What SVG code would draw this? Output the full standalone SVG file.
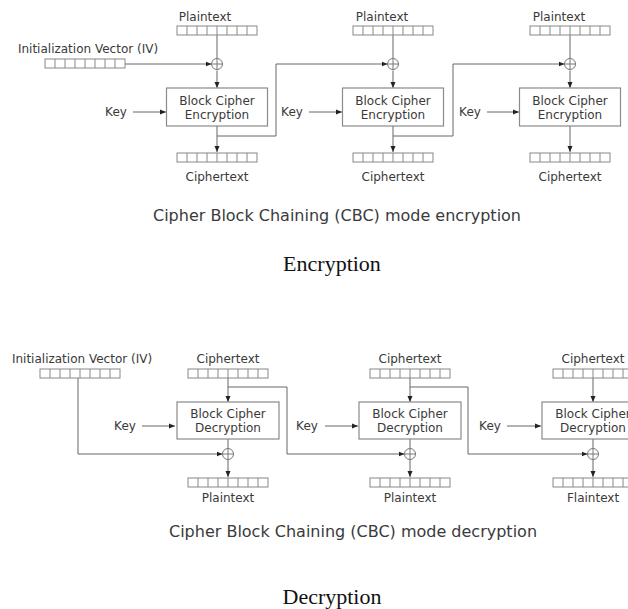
<svg xmlns="http://www.w3.org/2000/svg" width="628" height="609" viewBox="0 0 628 609">
  <defs>
    <style>
      .lbl { font-family: "DejaVu Sans", Verdana, sans-serif; font-size: 12px; fill: #3a3a3a; text-anchor: middle; }
      .cap { font-family: "DejaVu Sans", Verdana, sans-serif; font-size: 16px; fill: #3a3a3a; text-anchor: middle; }
      .ttl { font-family: "Liberation Serif", "Times New Roman", serif; font-size: 22px; fill: #111; text-anchor: middle; }
      .box { fill: #fff; stroke: #8a8a8a; stroke-width: 1.2; }
      .cell { fill: #fff; stroke: #888; stroke-width: 1; }
      .wire { fill: none; stroke: #666; stroke-width: 1; }
      .arr { fill: none; stroke: #666; stroke-width: 1; marker-end: url(#tip); }
      .xor { fill: #fff; stroke: #777; stroke-width: 1; }
    </style>
    <marker id="tip" viewBox="0 0 6 6" refX="6" refY="3" markerWidth="6" markerHeight="6" markerUnits="userSpaceOnUse" orient="auto">
      <path d="M0,0.5 L6,3 L0,5.5 z" fill="#222"/>
    </marker>
    <!-- 8-cell data block, 80 x 9 -->
    <g id="blk">
      <rect class="cell" x="0" y="0" width="80" height="9"/>
      <path d="M10,0V9M20,0V9M30,0V9M40,0V9M50,0V9M60,0V9M70,0V9" stroke="#888" stroke-width="1"/>
    </g>
    <!-- exclusive-or symbol -->
    <g id="xr">
      <circle class="xor" cx="0" cy="0" r="5.5"/>
      <path d="M-5.5,0H5.5M0,-5.5V5.5" stroke="#777" stroke-width="1"/>
    </g>
  </defs>

  <rect width="628" height="609" fill="#fff"/>

  <!-- ================= CBC encryption ================= -->
  <g id="connectors-enc">
    <!-- IV into first XOR -->
    <line class="arr" x1="125" y1="64" x2="211.5" y2="64"/>
    <!-- plaintext to XOR, XOR to cipher, cipher to ciphertext -->
    <line class="wire" x1="217" y1="35" x2="217" y2="58.5"/>
    <line class="arr" x1="217" y1="70.5" x2="217" y2="88"/>
    <line class="arr" x1="217" y1="126" x2="217" y2="152"/>
    <line class="wire" x1="393" y1="35" x2="393" y2="58.5"/>
    <line class="arr" x1="393" y1="70.5" x2="393" y2="88"/>
    <line class="arr" x1="393" y1="126" x2="393" y2="152"/>
    <line class="wire" x1="570" y1="35" x2="570" y2="58.5"/>
    <line class="arr" x1="570" y1="70.5" x2="570" y2="88"/>
    <line class="arr" x1="570" y1="126" x2="570" y2="152"/>
    <!-- keys -->
    <line class="arr" x1="133" y1="112" x2="166" y2="112"/>
    <line class="arr" x1="309" y1="112" x2="342" y2="112"/>
    <line class="arr" x1="487" y1="112" x2="519" y2="112"/>
    <!-- chaining -->
    <polyline class="arr" points="217,136 276,136 276,64 387.5,64"/>
    <polyline class="arr" points="393,136 453,136 453,64 564.5,64"/>
  </g>

  <g id="iv-enc">
    <text class="lbl" x="88" y="53">Initialization Vector (IV)</text>
    <use href="#blk" x="45" y="59"/>
  </g>

  <g id="enc-1">
    <text class="lbl" x="205" y="21">Plaintext</text>
    <use href="#blk" x="177" y="26"/>
    <use href="#xr" x="217" y="64"/>
    <text class="lbl" x="116" y="116">Key</text>
    <rect class="box" x="166.5" y="88" width="101" height="38"/>
    <text class="lbl" x="217" y="105">Block Cipher</text>
    <text class="lbl" x="217" y="119">Encryption</text>
    <use href="#blk" x="177" y="153"/>
    <text class="lbl" x="217" y="181">Ciphertext</text>
  </g>

  <g id="enc-2">
    <text class="lbl" x="382" y="21">Plaintext</text>
    <use href="#blk" x="353" y="26"/>
    <use href="#xr" x="393" y="64"/>
    <text class="lbl" x="292" y="116">Key</text>
    <rect class="box" x="342.5" y="88" width="101" height="38"/>
    <text class="lbl" x="393" y="105">Block Cipher</text>
    <text class="lbl" x="393" y="119">Encryption</text>
    <use href="#blk" x="353" y="153"/>
    <text class="lbl" x="393" y="181">Ciphertext</text>
  </g>

  <g id="enc-3">
    <text class="lbl" x="559" y="21">Plaintext</text>
    <use href="#blk" x="530" y="26"/>
    <use href="#xr" x="570" y="64"/>
    <text class="lbl" x="470" y="116">Key</text>
    <rect class="box" x="519.5" y="88" width="101" height="38"/>
    <text class="lbl" x="570" y="105">Block Cipher</text>
    <text class="lbl" x="570" y="119">Encryption</text>
    <use href="#blk" x="530" y="153"/>
    <text class="lbl" x="570" y="181">Ciphertext</text>
  </g>

  <text class="cap" x="337" y="221">Cipher Block Chaining (CBC) mode encryption</text>
  <text class="ttl" x="332" y="271">Encryption</text>

  <!-- ================= CBC decryption ================= -->
  <g id="connectors-dec">
    <!-- ciphertext into cipher -->
    <line class="arr" x1="228" y1="378" x2="228" y2="402"/>
    <line class="arr" x1="410" y1="378" x2="410" y2="402"/>
    <line class="arr" x1="593" y1="378" x2="593" y2="402"/>
    <!-- cipher to XOR, XOR to plaintext -->
    <line class="wire" x1="228" y1="439" x2="228" y2="448.5"/>
    <line class="arr" x1="228" y1="459.5" x2="228" y2="477"/>
    <line class="wire" x1="410" y1="439" x2="410" y2="448.5"/>
    <line class="arr" x1="410" y1="459.5" x2="410" y2="477"/>
    <line class="wire" x1="593" y1="439" x2="593" y2="448.5"/>
    <line class="arr" x1="593" y1="459.5" x2="593" y2="477"/>
    <!-- keys -->
    <line class="arr" x1="142" y1="426" x2="175" y2="426"/>
    <line class="arr" x1="325" y1="426" x2="358" y2="426"/>
    <line class="arr" x1="507" y1="426" x2="541" y2="426"/>
    <!-- IV and chaining -->
    <polyline class="arr" points="78,378 78,454 222.5,454"/>
    <polyline class="arr" points="228,387 287,387 287,454 404.5,454"/>
    <polyline class="arr" points="410,387 468,387 468,454 587.5,454"/>
  </g>

  <g id="iv-dec">
    <text class="lbl" x="82" y="363">Initialization Vector (IV)</text>
    <use href="#blk" x="40" y="369"/>
  </g>

  <g id="dec-1">
    <text class="lbl" x="228" y="363">Ciphertext</text>
    <use href="#blk" x="188" y="369"/>
    <text class="lbl" x="125" y="430">Key</text>
    <rect class="box" x="177" y="402" width="102" height="37"/>
    <text class="lbl" x="228" y="418">Block Cipher</text>
    <text class="lbl" x="228" y="432">Decryption</text>
    <use href="#xr" x="228" y="454"/>
    <use href="#blk" x="188" y="478"/>
    <text class="lbl" x="228" y="502">Plaintext</text>
  </g>

  <g id="dec-2">
    <text class="lbl" x="410" y="363">Ciphertext</text>
    <use href="#blk" x="370" y="369"/>
    <text class="lbl" x="307" y="430">Key</text>
    <rect class="box" x="359" y="402" width="102" height="37"/>
    <text class="lbl" x="410" y="418">Block Cipher</text>
    <text class="lbl" x="410" y="432">Decryption</text>
    <use href="#xr" x="410" y="454"/>
    <use href="#blk" x="370" y="478"/>
    <text class="lbl" x="410" y="502">Plaintext</text>
  </g>

  <g id="dec-3">
    <text class="lbl" x="593" y="363">Ciphertext</text>
    <use href="#blk" x="553" y="369"/>
    <text class="lbl" x="490" y="430">Key</text>
    <rect class="box" x="542" y="402" width="102" height="37"/>
    <text class="lbl" x="593" y="418">Block Cipher</text>
    <text class="lbl" x="593" y="432">Decryption</text>
    <use href="#xr" x="593" y="454"/>
    <use href="#blk" x="553" y="478"/>
    <text class="lbl" x="593" y="502">Flaintext</text>
  </g>

  <text class="cap" x="353" y="537">Cipher Block Chaining (CBC) mode decryption</text>
  <text class="ttl" x="332" y="604">Decryption</text>
</svg>
